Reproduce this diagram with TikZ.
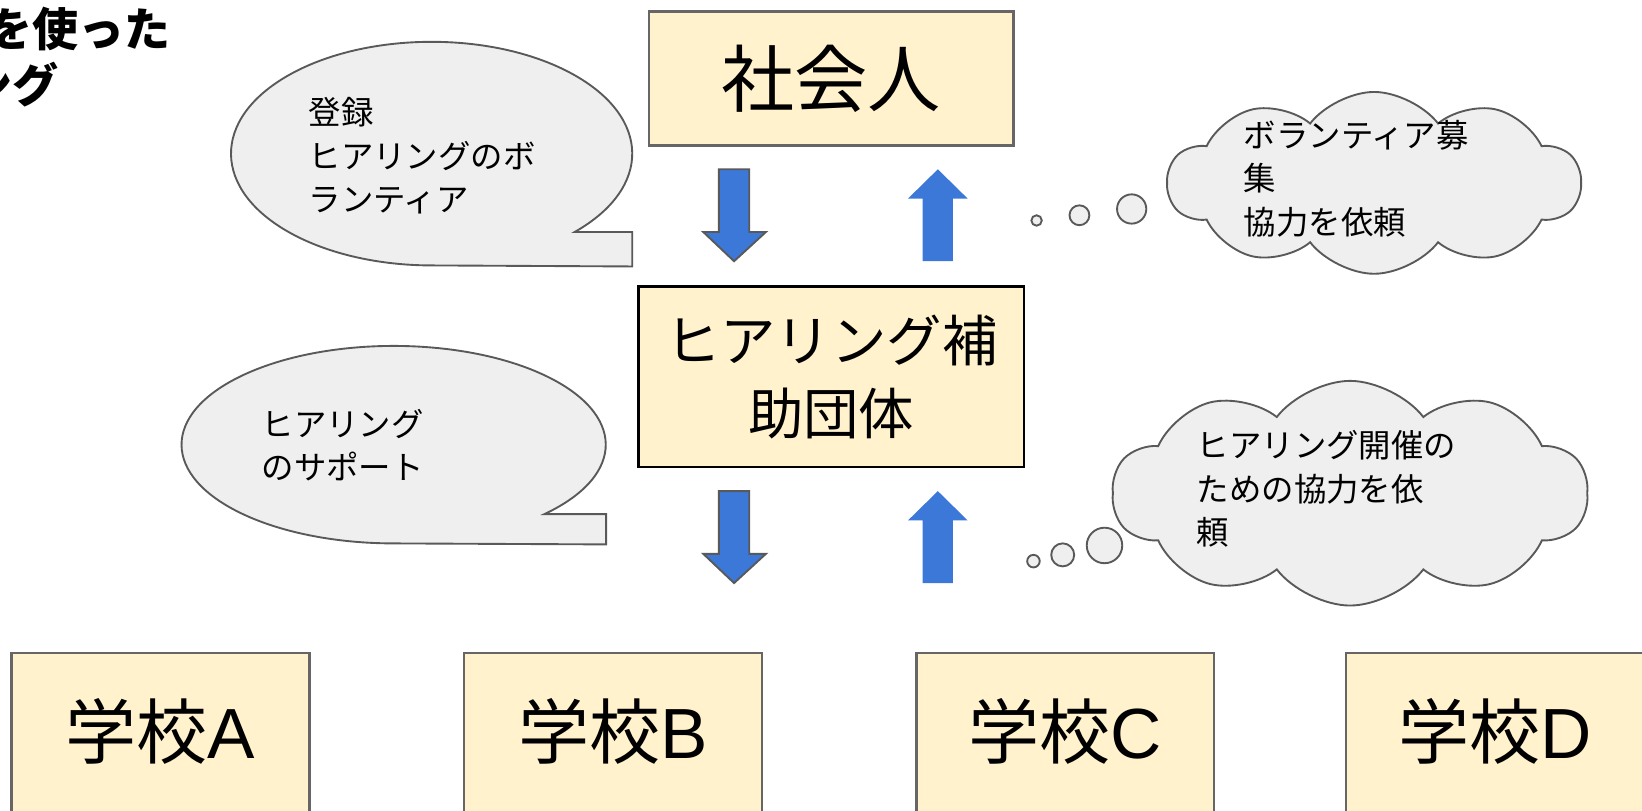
\documentclass[tikz,border=0pt]{standalone}
\usepackage{fontspec}
\setmainfont{Noto Sans CJK JP}
\newfontfamily\latin{Liberation Sans}
\usetikzlibrary{shapes.symbols}

\definecolor{boxyellow}{HTML}{FFF2CC}
\definecolor{boxline}{HTML}{666666}
\definecolor{arrowblue}{HTML}{3C78D8}
\definecolor{bubblefill}{HTML}{EFEFEF}
\definecolor{bubbleline}{HTML}{595959}

\newlength\pxl
\setlength\pxl{0.5pt}

\tikzset{
  yellowbox/.style={draw=boxline,fill=boxyellow,line width=1.2pt,inner sep=0pt},
  bubbletext/.style={align=left,inner sep=0pt,font=\fontsize{15.5pt}{20.75pt}\selectfont},
  thought/.style={circle,draw=bubbleline,fill=bubblefill,line width=0.9pt,inner sep=0pt},
  wish/.style={cloud,draw=bubbleline,fill=bubblefill,line width=0.9pt,cloud puffs=10,cloud puff arc=105,aspect=2.3},
  titletext/.style={anchor=north west,inner sep=0pt,font=\bfseries\fontsize{22pt}{26pt}\selectfont},
}

\begin{document}
\begin{tikzpicture}[x=0.5pt,y=-0.5pt]
  \useasboundingbox (0,0) rectangle (1571.4,776.1);
  \clip (0,0) rectangle (1571.4,776.1);

  % title, cut off at the left edge
  \node[titletext] (titleA) at (-13,6) {を使った};
  \node[titletext] (titleB) at (-32,59) {ング};

  % boxes
  \node[yellowbox,minimum width=349\pxl,minimum height=128\pxl,font=\fontsize{35pt}{42pt}\selectfont] (worker) at (795.5,75) {社会人};
  \node[yellowbox,draw=black,minimum width=369\pxl,minimum height=173\pxl,align=center,font=\fontsize{26.5pt}{35pt}\selectfont] (helper) at (795.5,360.5) {ヒアリング補\\助団体};
  \foreach \x/\s in {153.5/A,586.5/B,1019.5/C,1430.5/D} {%
    \node[yellowbox,minimum width=285\pxl,minimum height=260\pxl] (school\s) at (\x,755) {};
    \node[inner sep=0pt,font=\fontsize{34pt}{40pt}\selectfont] (label\s) at (\x,700) {学校{\latin\s}};
  }

  % block arrows
  \foreach \dy in {0,308} {%
    \draw[fill=arrowblue,draw=bubbleline,line width=0.9pt] (688,162+\dy) -- (717,162+\dy) -- (717,222+\dy) -- (733,222+\dy)
      -- (702.5,250+\dy) -- (673,222+\dy) -- (688,222+\dy) -- cycle;
    \fill[arrowblue] (897.5,162+\dy) -- (926,190+\dy) -- (912,190+\dy) -- (912,250+\dy) -- (883,250+\dy)
      -- (883,190+\dy) -- (869,190+\dy) -- cycle;
  }

  % speech bubbles
  \draw[fill=bubblefill,draw=bubbleline,line width=0.9pt] (550,222) arc[start angle=-44.5,end angle=270,x radius=96pt,y radius=53.5pt]
    -- (605,255) -- (605,222) -- cycle;
  \node[bubbletext,anchor=west] (entry) at (295,149) {登録\\ヒアリングのボ\\ランティア};
  \draw[fill=bubblefill,draw=bubbleline,line width=0.9pt] (521,492) arc[start angle=-44.7,end angle=270,x radius=101.5pt,y radius=47.25pt]
    -- (580,521) -- (580,492) -- cycle;
  \node[bubbletext,anchor=west] (support) at (250,426) {ヒアリング\\のサポート};

  % thought clouds
  \node[wish,minimum width=395\pxl,minimum height=174\pxl] (cloudA) at (1315,175) {};
  \node[thought,minimum size=10\pxl] (dotA1) at (992,211) {};
  \node[thought,minimum size=19\pxl] (dotA2) at (1033,206) {};
  \node[thought,minimum size=28\pxl] (dotA3) at (1083,200) {};
  \node[bubbletext,anchor=west] (recruit) at (1190,171) {ボランティア募\\集\\協力を依頼};

  \node[wish,minimum width=455\pxl,minimum height=215\pxl] (cloudB) at (1292,472) {};
  \node[thought,minimum size=12\pxl] (dotB1) at (989,537) {};
  \node[thought,minimum size=22\pxl] (dotB2) at (1017,531) {};
  \node[thought,minimum size=34\pxl] (dotB3) at (1057,522) {};
  \node[bubbletext,anchor=west] (request) at (1145,468) {ヒアリング開催の\\ための協力を依\\頼};
\end{tikzpicture}
\end{document}
